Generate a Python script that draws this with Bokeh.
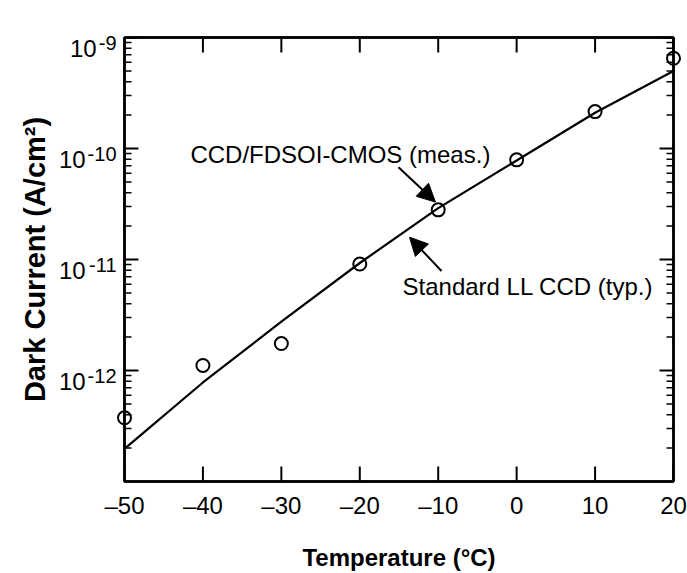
from bokeh.plotting import figure
from bokeh.models import (LinearAxis, LogAxis, FixedTicker, CustomJSTickFormatter,
                          Label, Arrow, NormalHead)
from bokeh.embed import file_html
from bokeh.resources import INLINE

# ---------------- data ----------------
temp_meas = [-50, -40, -30, -20, -10, 0, 10, 20]
dark_meas = [3.75e-13, 1.11e-12, 1.75e-12, 9.1e-12, 2.8e-11, 7.9e-11, 2.15e-10, 6.5e-10]

temp_typ = [-50, -40, -30, -20, -10, 0, 10, 20]
dark_typ = [1.97e-13, 7.8e-13, 2.75e-12, 9.3e-12, 2.9e-11, 7.8e-11, 2.1e-10, 5.0e-10]

x_ticks = [-50, -40, -30, -20, -10, 0, 10, 20]
y_major = [1e-12, 1e-11, 1e-10, 1e-9]
y_tick_base = ["10", "10", "10", "10"]
y_tick_exp = ["-12", "-11", "-10", "-9"]
y_minor = [m * 10.0 ** e for e in range(-13, -9) for m in range(2, 10)]

X0, X1 = -50, 20
Y0, Y1 = 1e-13, 1e-9

FONT = "Liberation Sans"

p = figure(width=687, height=573, output_backend="svg", toolbar_location=None,
           y_axis_type="log", x_range=(X0, X1), y_range=(Y0, Y1),
           x_axis_location=None, y_axis_location=None,
           min_border_left=124, min_border_right=14, min_border_top=37, min_border_bottom=90)
p.xgrid.visible = False
p.ygrid.visible = False
p.outline_line_color = "black"
p.outline_line_width = 2.5
p.background_fill_color = "white"
p.border_fill_color = "white"

xfmt = CustomJSTickFormatter(code="return tick < 0 ? '\u2013' + Math.abs(tick) : String(tick);")
blank = CustomJSTickFormatter(code="return '';")


def style(ax):
    ax.axis_line_color = "black"
    ax.axis_line_width = 2.5
    ax.major_tick_in = 0
    ax.major_tick_out = 0
    ax.minor_tick_in = 0
    ax.minor_tick_out = 0
    ax.major_label_text_font = FONT
    ax.major_label_text_font_size = "24px"
    ax.major_label_text_color = "black"
    ax.axis_label_text_font = FONT
    ax.axis_label_text_font_size = "24px"
    ax.axis_label_text_font_style = "bold"
    ax.axis_label_text_color = "black"


xb = LinearAxis(ticker=FixedTicker(ticks=x_ticks), formatter=xfmt,
                axis_label="Temperature (\u00b0C)")
style(xb)
xb.major_label_standoff = 10
xb.axis_label_standoff = 22
p.add_layout(xb, "below")

xt = LinearAxis(ticker=FixedTicker(ticks=x_ticks), formatter=blank)
style(xt)
xt.major_label_text_font_size = "1px"
xt.major_label_standoff = 0
p.add_layout(xt, "above")

yl = LogAxis(ticker=FixedTicker(ticks=y_major, minor_ticks=y_minor), formatter=blank,
             axis_label="Dark Current (A/cm\u00b2)")
style(yl)
yl.major_label_text_font_size = "1px"
yl.major_label_standoff = 0
yl.axis_label_standoff = 74
yl.axis_label_text_font_size = "29px"
p.add_layout(yl, "left")

yr = LogAxis(ticker=FixedTicker(ticks=y_major, minor_ticks=y_minor), formatter=blank)
style(yr)
yr.major_label_text_font_size = "1px"
yr.major_label_standoff = 0
p.add_layout(yr, "right")

# ---- inward tick marks ----
# x ticks: short headless arrows from the bottom / top edge into the frame (~15 px)
TICK_FACTOR = 10 ** (15 / 111.25)
for xv in x_ticks:
    p.add_layout(Arrow(x_start=xv, y_start=Y0, x_end=xv, y_end=Y0 * TICK_FACTOR,
                       end=None, line_color="black", line_width=2))
    p.add_layout(Arrow(x_start=xv, y_start=Y1, x_end=xv, y_end=Y1 / TICK_FACTOR,
                       end=None, line_color="black", line_width=2))
# y ticks: dash markers centred on the left / right edge, clipped to the frame
for xx in (X0, X1):
    p.scatter([xx] * len(y_major), y_major, marker="dash", size=28,
              line_color="black", line_width=2)
    p.scatter([xx] * len(y_minor), y_minor, marker="dash", size=14,
              line_color="black", line_width=1.5)

# ---- y tick labels "10" with raised exponent (overlay level so they are not clipped) ----
EXP_PX = 20
exp_w = [sum(0.333 if c == "-" else 0.556 for c in s) * EXP_PX for s in y_tick_exp]
r_base = p.text(x=[X0] * len(y_major), y=y_major, text=y_tick_base,
                x_offset=[-(8 + w + 2) for w in exp_w], y_offset=11,
                text_align="right", text_baseline="alphabetic",
                text_font={"value": FONT}, text_font_size="24px", text_color="black")
r_base.level = "overlay"
r_exp = p.text(x=[X0] * len(y_major), y=y_major, text=y_tick_exp,
               x_offset=-8, y_offset=5,
               text_align="right", text_baseline="alphabetic",
               text_font={"value": FONT}, text_font_size=f"{EXP_PX}px", text_color="black")
r_exp.level = "overlay"

# typical curve
p.line(temp_typ, dark_typ, line_color="black", line_width=2.2)

# measured points (not clipped at frame edge)
pts = p.scatter(temp_meas, dark_meas, marker="circle", size=13, fill_color=None,
                line_color="black", line_width=2)
pts.level = "overlay"

# annotations
p.add_layout(Label(x=-41.6, y=8.87e-11, text="CCD/FDSOI-CMOS (meas.)",
                   text_font=FONT, text_font_size="24px", text_baseline="middle",
                   text_color="black"))
p.add_layout(Label(x=-14.55, y=5.66e-12, text="Standard LL CCD (typ.)",
                   text_font=FONT, text_font_size="24px", text_baseline="middle",
                   text_color="black"))
p.add_layout(Arrow(x_start=-15.06, y_start=6.78e-11, x_end=-10.35, y_end=3.29e-11,
                   line_color="black", line_width=2,
                   end=NormalHead(size=18, fill_color="black", line_color="black")))
p.add_layout(Arrow(x_start=-9.58, y_start=7.88e-12, x_end=-13.66, y_end=1.59e-11,
                   line_color="black", line_width=2,
                   end=NormalHead(size=18, fill_color="black", line_color="black")))

# figure number
p.add_layout(Label(x=X1, y=Y1, x_offset=12, y_offset=12, text="334364-22",
                   text_font=FONT, text_font_size="14px", text_align="right",
                   text_baseline="bottom", text_color="black"))

open("out.html", "w").write(file_html(p, INLINE))
